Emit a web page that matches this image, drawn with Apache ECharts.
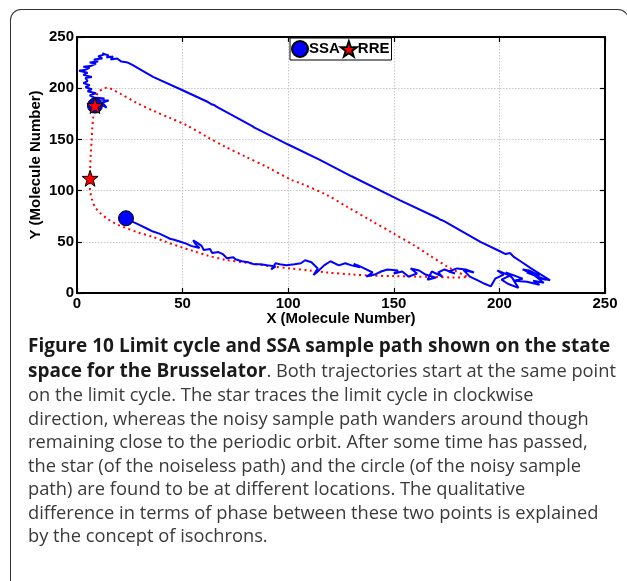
<!DOCTYPE html>
<html>
<head>
<meta charset="utf-8">
<script src="https://cdn.jsdelivr.net/npm/echarts@6/dist/echarts.min.js"></script>
<style>
  html, body { margin: 0; padding: 0; background: #fff; }
  #page { position: relative; width: 627px; height: 581px; overflow: hidden; background: #fff; }
  #frame {
    position: absolute; left: 10px; top: 9px; width: 619px; height: 640px;
    border-top: 1.5px solid #333; border-left: 1.5px solid #333; border-right: 1.5px solid #333;
    border-radius: 11px 11px 0 0; box-sizing: border-box;
  }
  #chart { position: absolute; left: 0; top: 0; width: 627px; height: 340px; }
  #caption {
    position: absolute; left: 28px; top: 333px;
    font-family: "Open Sans", "Noto Sans", sans-serif; font-size: 18.3px; line-height: 23.5px;
    color: #3a3a3a; white-space: nowrap;
  }
  #caption b { color: #1a1a1a; font-weight: 700; font-size: 19px; line-height: 23.5px; }
</style>
</head>
<body>
<div id="page">
  <div id="frame"></div>
  <div id="chart"></div>
  <div id="caption">
    <b>Figure 10 Limit cycle and SSA sample path shown on the state</b><br>
    <b>space for the Brusselator</b>. Both trajectories start at the same point<br>
    on the limit cycle. The star traces the limit cycle in clockwise<br>
    direction, whereas the noisy sample path wanders around though<br>
    remaining close to the periodic orbit. After some time has passed,<br>
    the star (of the noiseless path) and the circle (of the noisy sample<br>
    path) are found to be at different locations. The qualitative<br>
    difference in terms of phase between these two points is explained<br>
    by the concept of isochrons.
  </div>
</div>
<script>
// Axis ticks (both axes share the same range)
const xTicks = [0, 50, 100, 150, 200, 250];
const yTicks = [0, 50, 100, 150, 200, 250];

// Deterministic limit cycle of the reaction rate equations (X, Y), clockwise
const rreCycle = [
  [8.5, 183], [7.7, 172], [7.2, 160], [6.9, 149], [6.5, 135], [6.2, 120], [6.0, 110],
  [6.2, 100], [7.0, 92], [8.5, 84], [11, 78], [14, 73], [18, 68], [22, 64.5],
  [29, 59], [36, 54.7], [42, 50], [49, 45], [55, 41], [61.5, 36.8], [70, 32.5],
  [82, 29], [92, 26], [101, 24], [110, 22], [118.5, 20], [130, 18.2], [139, 17],
  [150, 16.5], [160, 16], [170, 15.6], [178, 15.2], [185, 15.5],
  [176, 25], [166, 38], [160, 46], [150, 58], [139, 71], [128, 84], [118, 96],
  [106, 107], [102, 110], [90, 123], [80, 133], [70, 143], [62, 152], [52, 163.7],
  [44, 171], [36, 178], [28, 186], [20.4, 194.7], [17, 198.5], [14, 200.5],
  [12, 199], [10, 196], [9, 191], [8.5, 183]
];

// Stochastic (SSA) sample path (X, Y)
const ssaPath = [
  [8.5, 183], [11, 185], [14, 181], [12, 186], [15, 188], [11, 189], [13, 190],
  [8, 191], [6, 193], [9, 195], [5, 197], [7, 199], [4, 201], [6, 203], [3, 205],
  [5, 207], [4, 210], [7, 211], [3, 213], [5, 215], [1, 217], [4, 218], [6, 220],
  [3, 221], [7, 222], [9, 224], [6, 225], [10, 226], [8, 228], [12, 229], [10, 231],
  [13, 233], [12, 234], [15, 232], [14, 230], [17, 231], [16, 228], [19, 229],
  [21, 226], [24, 225], [26, 223],
  [36, 211], [50, 198], [62, 186.5], [64, 184], [65, 183.5], [66, 182],
  [83, 163], [84, 161.5], [85, 160.5], [100, 145], [115, 130], [130, 114],
  [153, 90.5], [171, 73], [172, 71.5], [173, 71], [174, 70], [191, 50],
  [200, 41], [203, 38], [205, 39], [207, 35], [210, 31], [215, 24], [224, 12.4],
  [218, 15], [222, 13], [213, 20], [219, 17], [214, 22], [211, 23], [216, 18],
  [221, 10], [216, 12], [219, 8], [213, 11], [207, 12], [211, 14], [203, 20],
  [206, 15], [209, 5], [204, 9], [201, 13], [205, 17], [199, 22], [202, 18],
  [198, 14], [196, 6.5], [193, 9], [190, 12], [186, 16], [183, 22.5], [188, 20],
  [184, 23], [180, 24], [176, 21], [179, 19], [174, 23], [171, 20], [173, 16],
  [168, 21], [166, 13], [170, 15], [165, 18], [162, 22], [158, 24], [161, 19],
  [157, 16], [154, 21], [150, 19], [152, 22], [147, 23], [144, 21], [141, 18],
  [137, 16], [140, 20], [136, 24], [133, 27], [131, 28.5], [134, 25], [130, 27],
  [127, 29], [124, 27], [120, 31], [117, 27], [114, 21], [112, 17.5], [114, 24],
  [111, 30], [108, 32], [106, 29], [103, 28], [99, 27], [96, 28], [94, 29],
  [92, 23], [94, 26], [90, 27], [87, 28], [84, 28], [81, 30], [78, 31], [75, 33],
  [74, 35], [71, 34], [69, 38], [67, 40], [64, 39], [63, 43], [60, 42], [59, 46],
  [57, 49], [55, 51.5], [56, 48], [58, 44], [54, 46], [52, 48], [49, 50], [46, 52],
  [44, 53], [42, 55], [39, 58], [36, 60], [33, 63], [30, 66], [27, 69], [23.2, 73]
];

// Marker positions: common start point and the positions reached later
const ssaMarkers = [[8.5, 183], [23.2, 73]];
const rreMarkers = [[8.5, 183], [6.2, 112]];

const STAR = 'path://M50,2 L61.8,36.3 L98,36.9 L69.1,58.7 L79.4,93.4 L50,72.7 L20.6,93.4 L30.9,58.7 L2,36.9 L38.2,36.3 Z';
const FONT = '"Liberation Sans", Arial, Helvetica, sans-serif';

const chart = echarts.init(document.getElementById('chart'), null, { renderer: 'canvas' });

const mainAxis = (ticks) => ({
  type: 'value',
  min: ticks[0],
  max: ticks[ticks.length - 1],
  interval: ticks[1] - ticks[0],
  axisLine: { show: true, onZero: false, lineStyle: { color: '#000', width: 2 } },
  axisTick: { show: true, inside: true, length: 5, lineStyle: { color: '#000', width: 1.2 } },
  axisLabel: { color: '#000', fontFamily: FONT, fontWeight: 'bold', fontSize: 15, margin: 3 },
  splitLine: { show: true, lineStyle: { color: '#c8c8c8', type: [1.5, 1.5], width: 1 } }
});
const mirrorAxis = (ticks, pos) => ({
  type: 'value',
  position: pos,
  min: ticks[0],
  max: ticks[ticks.length - 1],
  interval: ticks[1] - ticks[0],
  axisLine: { show: true, onZero: false, lineStyle: { color: '#000', width: 2 } },
  axisTick: { show: true, inside: true, length: 5, lineStyle: { color: '#000', width: 1.2 } },
  axisLabel: { show: false },
  splitLine: { show: false }
});

chart.setOption({
  animation: false,
  backgroundColor: 'transparent',
  grid: { left: 77, top: 37, width: 528, height: 256, containLabel: false },
  xAxis: [
    Object.assign(mainAxis(xTicks), {
      position: 'bottom',
      name: 'X (Molecule Number)',
      nameLocation: 'middle',
      nameGap: 18,
      nameMoveOverlap: false,
      nameTextStyle: { color: '#000', fontFamily: FONT, fontWeight: 'bold', fontSize: 15 }
    }),
    mirrorAxis(xTicks, 'top')
  ],
  yAxis: [
    Object.assign(mainAxis(yTicks), {
      position: 'left',
      name: 'Y (Molecule Number)',
      nameLocation: 'middle',
      nameGap: 34,
      nameRotate: 90,
      nameMoveOverlap: false,
      nameTextStyle: { color: '#000', fontFamily: FONT, fontWeight: 'bold', fontSize: 15 }
    }),
    mirrorAxis(yTicks, 'right')
  ],
  legend: {
    data: ['SSA', 'RRE'],
    left: 290,
    top: 38,
    orient: 'horizontal',
    itemWidth: 16,
    itemHeight: 16,
    itemGap: 0,
    padding: [2, 2, 2, 1],
    backgroundColor: '#fff',
    borderColor: '#000',
    borderWidth: 1,
    borderRadius: 0,
    textStyle: { color: '#000', fontFamily: FONT, fontWeight: 'bold', fontSize: 15, padding: [0, 0, 0, -4] }
  },
  series: [
    {
      name: 'RRE path',
      type: 'line',
      data: rreCycle,
      showSymbol: false,
      smooth: 0.3,
      lineStyle: { color: '#ff0000', width: 2, type: [2, 3.5] },
      z: 2,
      silent: true
    },
    {
      name: 'SSA path',
      type: 'line',
      data: ssaPath,
      showSymbol: false,
      lineStyle: { color: '#0000ff', width: 2 },
      z: 3,
      silent: true
    },
    {
      name: 'SSA',
      type: 'scatter',
      data: ssaMarkers,
      symbol: 'circle',
      symbolSize: 15,
      itemStyle: { color: '#0000ff', borderColor: '#000', borderWidth: 1, opacity: 1 },
      z: 4
    },
    {
      name: 'RRE',
      type: 'scatter',
      data: rreMarkers,
      symbol: STAR,
      symbolSize: 16,
      itemStyle: { color: '#ff0000', borderColor: '#000', borderWidth: 1, opacity: 1 },
      z: 5
    }
  ]
});
</script>
</body>
</html>
